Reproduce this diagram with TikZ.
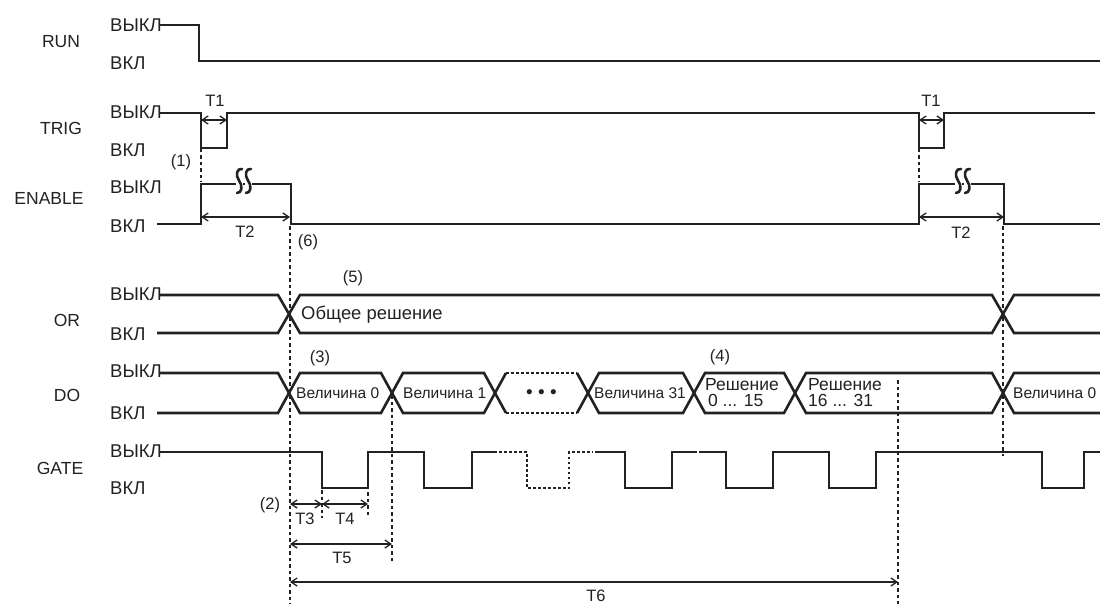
\documentclass[tikz,border=0pt]{standalone}
\usepackage{fontspec}
\setmainfont{Liberation Sans}
\usetikzlibrary{arrows.meta}
\definecolor{ink}{HTML}{222222}
\begin{document}
\begin{tikzpicture}[x=1pt,y=-1pt,
  sig/.style={line width=2.6pt, ink, line join=miter},
  sigdot/.style={line width=2.6pt, ink, dash pattern=on 2.5pt off 2.5pt},
  dim/.style={{Straight Barb[length=6pt,width=8pt]}-{Straight Barb[length=6pt,width=8pt]}, line width=1.3pt, ink},
  guide/.style={line width=1.4pt, ink, dash pattern=on 3.5pt off 3pt},
  signame/.style={font=\fontsize{17.5}{19}\selectfont, text=ink, inner sep=0pt},
  lvl/.style={font=\fontsize{18.5}{20}\selectfont, text=ink, inner sep=0pt, anchor=west},
  tl/.style={font=\fontsize{16.5}{18}\selectfont, text=ink, inner sep=0pt},
  val/.style={font=\fontsize{15.5}{16}\selectfont, text=ink, inner sep=0pt, anchor=west, align=left},
  sq/.style={line width=2.6pt, ink, line cap=round}]
\useasboundingbox (0,0) rectangle (1100,604);
\fill[white] (0,0) rectangle (1100,604);

% ---------- signal names ----------
\node[signame] (nRUN) at (61,42) {RUN};
\node[signame] (nTRIG) at (61,128) {TRIG};
\node[signame] (nEN) at (49,198) {ENABLE};
\node[signame] (nOR) at (67,320) {OR};
\node[signame] (nDO) at (67,395) {DO};
\node[signame] (nGATE) at (60,468) {GATE};

% ---------- level labels ----------
\node[lvl] (l1) at (110,25) {ВЫКЛ};
\node[lvl] (l2) at (110,63) {ВКЛ};
\node[lvl] (l3) at (110,112) {ВЫКЛ};
\node[lvl] (l4) at (110,150) {ВКЛ};
\node[lvl] (l5) at (110,187) {ВЫКЛ};
\node[lvl] (l6) at (110,226) {ВКЛ};
\node[lvl] (l7) at (110,294) {ВЫКЛ};
\node[lvl] (l8) at (110,334) {ВКЛ};
\node[lvl] (l9) at (110,371) {ВЫКЛ};
\node[lvl] (l10) at (110,413) {ВКЛ};
\node[lvl] (l11) at (110,451) {ВЫКЛ};
\node[lvl] (l12) at (110,488) {ВКЛ};

% ---------- RUN ----------
\draw[sig] (160,25) -- (199,25) -- (199,61) -- (1100,61);

% ---------- TRIG ----------
\draw[sig] (160,113) -- (201,113) -- (201,148) -- (227,148) -- (227,113)
  -- (919,113) -- (919,148) -- (944,148) -- (944,113) -- (1095,113);
\draw[dim] (201,120) -- (227,120);
\draw[dim] (919,120) -- (944,120);
\node[tl] (t1a) at (215,101) {T1};
\node[tl] (t1b) at (931,101) {T1};
\node[tl] (p1) at (181,162) {(1)};
\draw[guide] (201,149) -- (201,182);
\draw[guide] (919,149) -- (919,182);

% ---------- ENABLE ----------
\draw[sig] (157,224) -- (201,224) -- (201,184) -- (291,184) -- (291,224)
  -- (919,224) -- (919,184) -- (1004,184) -- (1004,224) -- (1100,224);
\foreach \sx in {236,245}{
  \fill[white] (\sx,180) rectangle (\sx+7,188);
  \draw[sq] (\sx+6,169) .. controls (\sx+1,168) and (\sx-1,175) .. (\sx+3,180.5)
     .. controls (\sx+7,186) and (\sx+6,193) .. (\sx+1,193);
}
\foreach \sx in {955,964}{
  \fill[white] (\sx,180) rectangle (\sx+7,188);
  \draw[sq] (\sx+6,169) .. controls (\sx+1,168) and (\sx-1,175) .. (\sx+3,180.5)
     .. controls (\sx+7,186) and (\sx+6,193) .. (\sx+1,193);
}
\draw[dim] (201,217) -- (290,217);
\draw[dim] (919,217) -- (1004,217);
\node[tl] (t2a) at (245,232) {T2};
\node[tl] (t2b) at (961,233) {T2};
\node[tl] (p6) at (308,242) {(6)};

% ---------- guide lines ----------
\draw[guide] (290,226) -- (290,604);
\draw[guide] (1003,226) -- (1003,456);
\draw[guide] (392,395) -- (392,563);
\draw[guide] (898,380) -- (898,604);
\draw[guide] (322,490) -- (322,518);
\draw[guide] (368,492) -- (368,518);

% ---------- OR ----------
\def\ot{295}\def\ob{333}\def\om{314}
\draw[sig] (160,\ot) -- (278,\ot) -- (289,\om);
\draw[sig] (157,\ob) -- (278,\ob) -- (289,\om);
\draw[sig] (289,\om) -- (300,\ot) -- (992,\ot) -- (1003,\om) -- (1014,\ot) -- (1100,\ot);
\draw[sig] (289,\om) -- (300,\ob) -- (992,\ob) -- (1003,\om) -- (1014,\ob) -- (1100,\ob);
\node[val, font=\fontsize{18.4}{19}\selectfont] (vOR) at (301,315) {Общее решение};
\node[tl] (p5) at (353,278) {(5)};

% ---------- DO ----------
\def\dt{373}\def\db{413}\def\dm{393}
\draw[sig] (160,\dt) -- (278,\dt) -- (289,\dm);
\draw[sig] (157,\db) -- (278,\db) -- (289,\dm);
\foreach \a/\b in {289/392, 392/495, 588/694, 694/795, 795/1003}{
  \draw[sig] (\a,\dm) -- (\a+11,\dt) -- (\b-11,\dt) -- (\b,\dm);
  \draw[sig] (\a,\dm) -- (\a+11,\db) -- (\b-11,\db) -- (\b,\dm);
}
% dotted segment
\draw[sig] (495,\dm) -- (506,\dt);
\draw[sig] (495,\dm) -- (506,\db);
\draw[sig] (577,\dt) -- (588,\dm);
\draw[sig] (577,\db) -- (588,\dm);
\draw[sigdot] (506,\dt) -- (577,\dt);
\draw[sigdot] (506,\db) -- (577,\db);
% last
\draw[sig] (1003,\dm) -- (1014,\dt) -- (1100,\dt);
\draw[sig] (1003,\dm) -- (1014,\db) -- (1100,\db);
\node[val] (v0) at (296,\dm) {Величина 0};
\node[val] (v1) at (403,\dm) {Величина 1};
\node[val, font=\fontsize{19}{20}\selectfont] (vdots) at (526,\dm+1) {\textbullet\ \textbullet\ \textbullet};
\node[val] (v31) at (594,\dm) {Величина 31};
\node[val, font=\fontsize{17.5}{17}\selectfont] (r1) at (705,\dm) {Решение\\[-1pt]\,0 ... 15};
\node[val, font=\fontsize{17.5}{17}\selectfont] (r2) at (808,\dm) {Решение\\[-1pt]16 ... 31};
\node[val] (v0b) at (1013,\dm) {Величина 0};
\node[tl] (p3) at (320,358) {(3)};
\node[tl] (p4) at (720,357) {(4)};

% ---------- GATE ----------
\def\gh{452}\def\gl{488}
\draw[sig] (160,\gh) -- (322,\gh) -- (322,\gl) -- (368,\gl) -- (368,\gh)
  -- (424,\gh) -- (424,\gl) -- (472,\gl) -- (472,\gh) -- (497,\gh);
\draw[sigdot] (499,\gh) -- (527,\gh) -- (527,\gl) -- (569,\gl) -- (569,\gh) -- (593,\gh);
\draw[sig] (595,\gh) -- (625,\gh) -- (625,\gl) -- (672,\gl) -- (672,\gh) -- (697,\gh);
\draw[sig] (699,\gh) -- (726,\gh) -- (726,\gl) -- (773,\gl) -- (773,\gh)
  -- (829,\gh) -- (829,\gl) -- (876,\gl) -- (876,\gh)
  -- (1042,\gh) -- (1042,\gl) -- (1084,\gl) -- (1084,\gh) -- (1100,\gh);

% ---------- timing dimensions ----------
\draw[dim] (290,504) -- (322,504);
\draw[dim] (322,504) -- (368,504);
\draw[dim] (290,544) -- (392,544);
\draw[dim] (290,582) -- (898,582);
\node[tl] (p2) at (270,505) {(2)};
\node[tl] (t3) at (305,519) {T3};
\node[tl] (t4) at (345,519) {T4};
\node[tl] (t5) at (342,558) {T5};
\node[tl] (t6) at (596,596) {T6};
\end{tikzpicture}
\end{document}
